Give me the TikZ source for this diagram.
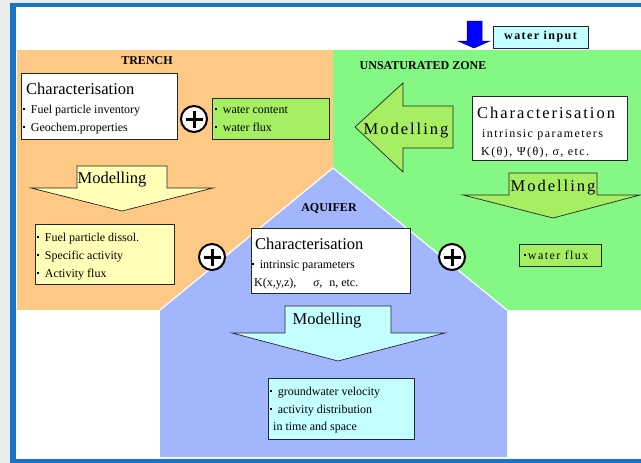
\documentclass[tikz,border=0pt]{standalone}
\usepackage{fontspec}
\setmainfont{Liberation Serif}
\newfontfamily\spaced[LetterSpace=12]{Liberation Serif}
\usepackage{tikz}
\definecolor{framebg}{HTML}{EBEBEB}
\definecolor{frameblue}{HTML}{1874C8}
\definecolor{ttrench}{HTML}{FDC985}
\definecolor{tunsat}{HTML}{84F784}
\definecolor{taquif}{HTML}{A2B6FE}
\definecolor{lyellow}{HTML}{FFFFB8}
\definecolor{lgreen}{HTML}{A6EF62}
\definecolor{lcyan}{HTML}{C4FFFF}
\definecolor{dropblue}{HTML}{0000FF}
\newcommand{\sq}{\rule[2.8pt]{2.2pt}{2.2pt}\hspace{5.5pt}}
\tikzset{
  box/.style={draw=black!85, line width=0.8pt, inner sep=0pt},
  blk/.style={draw=black!85, line width=0.7pt, line join=miter},
  zone/.style={inner sep=0pt, font=\bfseries\fontsize{12}{12}\selectfont},
  head/.style={anchor=base west, inner sep=0pt, font=\fontsize{16.5}{18}\selectfont},
  item/.style={anchor=base west, inner sep=0pt, font=\fontsize{12}{14}\selectfont},
  mod/.style={inner sep=0pt, font=\fontsize{16.5}{18}\selectfont},
  oplus/.style={circle, draw, line width=2pt, fill=white, minimum size=26pt, inner sep=0pt,
    path picture={\draw[line width=3pt]
      (path picture bounding box.center) ++(-8.5pt,0pt) -- ++(17pt,0pt)
      (path picture bounding box.center) ++(0pt,-8.5pt) -- ++(0pt,17pt);}},
}

\begin{document}
\begin{tikzpicture}[x=1pt, y=-1pt]
  \useasboundingbox (0,0) rectangle (641,463);
  % --- frame ---------------------------------------------------------------
  \fill[framebg] (0,0) rectangle (641,463);
  \fill[frameblue] (10,3) rectangle (641,463);
  \fill[white] (16,7) rectangle (641,459);

  % --- the three zones ------------------------------------------------------
  \fill[ttrench] (17,50) rectangle (333,310);
  \fill[tunsat] (333,50) rectangle (641,310);
  \fill[taquif] (160,457) -- (160,310) -- (333,168) -- (507,310) -- (507,457) -- cycle;
  \draw[white, line width=1.2pt] (160,310) -- (333,168) -- (507,310);

  \node[zone] (trench) at (147,61) {TRENCH};
  \node[zone] (unsat) at (423,66) {UNSATURATED ZONE};
  \node[zone] (aquif) at (329,208) {AQUIFER};

  % --- water input ----------------------------------------------------------
  \draw[draw=blue!50!black, line width=0.5pt, fill=dropblue]
    (467,21) -- (482,21) -- (482,41) -- (490,41) -- (474,48) -- (458,41) -- (467,41) -- cycle;
  \node[box, fill=lcyan, minimum width=95pt, minimum height=22pt] (winput) at (540.5,37)
    {\spaced\bfseries\fontsize{12}{12}\selectfont water input};

  % --- trench ---------------------------------------------------------------
  \node[box, fill=white, minimum width=156pt, minimum height=66pt] (trchar) at (99,106) {};
  \node[head] (trhead) at (26,94) {Characterisation};
  \node[item] (tr1) at (23,113) {\sq Fuel particle inventory};
  \node[item] (tr2) at (23,131) {\sq Geochem.properties};

  \node[oplus] (plusa) at (194,119) {};
  \node[box, fill=lgreen, minimum width=117pt, minimum height=41pt] (trin) at (270.5,118.5) {};
  \node[item] (in1) at (215,113) {\sq water content};
  \node[item] (in2) at (215,131) {\sq water flux};

  \draw[blk, fill=lyellow]
    (77,166) -- (167,166) -- (167,188) -- (213,188) -- (122,211) -- (31,188) -- (77,188) -- cycle;
  \node[mod] (trmod) at (112,180) {Modelling};

  \node[box, fill=lyellow, minimum width=139pt, minimum height=60pt] (trout) at (104.5,254) {};
  \node[item] (out1) at (37,241) {\sq Fuel particle dissol.};
  \node[item] (out2) at (37,259) {\sq Specific activity};
  \node[item] (out3) at (37,277) {\sq Activity flux};

  \node[oplus] (plusb) at (212,257) {};

  % --- unsaturated zone -----------------------------------------------------
  \draw[blk, fill=lgreen]
    (453,106) -- (453,148) -- (403,148) -- (403,172) -- (355,127) -- (403,83) -- (403,106) -- cycle;
  \node[mod] (uzleft) at (406,131) {\spaced Modelling};

  \node[box, fill=white, minimum width=155pt, minimum height=64pt] (uzchar) at (549.5,128) {};
  \node[head] (uzhead) at (477,118) {\spaced Characterisation};
  \node[item] (uz1) at (482,137) {\spaced intrinsic parameters};
  \node[item] (uz2) at (481,155) {\spaced K(θ), Ψ(θ), σ, etc.};

  \draw[blk, fill=lgreen]
    (509,173) -- (597,173) -- (597,195) -- (640,195) -- (553,218) -- (463,195) -- (509,195) -- cycle;
  \node[mod] (uzdown) at (553,188) {\spaced Modelling};

  \node[box, fill=lgreen, minimum width=82pt, minimum height=22pt] (uzout) at (560,255) {};
  \node[item] (uz3) at (524,259) {\rule[2.8pt]{2.2pt}{2.2pt}\hspace{1.5pt}\spaced water flux};

  \node[oplus] (plusc) at (452,257) {};

  % --- aquifer --------------------------------------------------------------
  \node[box, fill=white, minimum width=159pt, minimum height=65pt] (aqchar) at (330.5,260.5) {};
  \node[head] (aqhead) at (255,249) {Characterisation};
  \node[item] (aq1) at (252,268) {\sq intrinsic parameters};
  \node[item] (aq2) at (254,286) {K(x,y,z),\hspace{17pt}\textit{σ},\hspace{7pt}n, etc.};

  \draw[blk, fill=lcyan]
    (285,306) -- (391,306) -- (391,333) -- (445,333) -- (338,361) -- (232,333) -- (285,333) -- cycle;
  \node[mod] (aqmod) at (327,321) {Modelling};

  \node[box, fill=lcyan, minimum width=146pt, minimum height=61pt] (aqout) at (341,408.5) {};
  \node[item] (aq3) at (270,395) {\sq groundwater velocity};
  \node[item] (aq4) at (270,413) {\sq activity distribution};
  \node[item] (aq5) at (273,430) {in time and space};
\end{tikzpicture}
\end{document}
